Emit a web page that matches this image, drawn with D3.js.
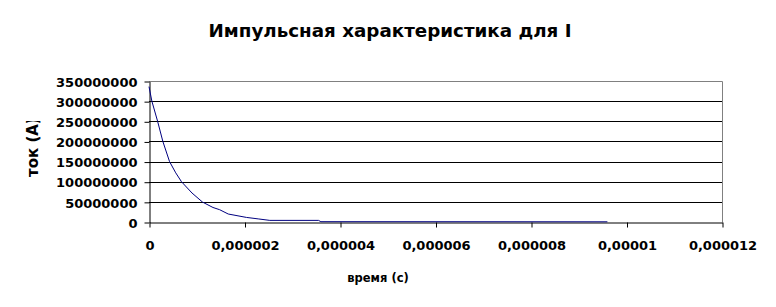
<!DOCTYPE html>
<html>
<head>
<meta charset="utf-8">
<script src="https://cdn.jsdelivr.net/npm/d3@7"></script>
<style>
  body { margin: 0; background: #fff; }
  text { font-family: "DejaVu Sans", Verdana, sans-serif; }
</style>
</head>
<body>
<script>
// время, с
var times = [0, 0.06e-6, 0.18e-6, 0.29e-6, 0.43e-6, 0.56e-6, 0.68e-6, 0.9e-6,
             1.12e-6, 1.34e-6, 1.48e-6, 1.66e-6, 2.04e-6, 2.3e-6, 2.53e-6,
             3.55e-6, 3.6e-6, 9.6e-6];
// ток, А
var currents = [336e6, 300e6, 250e6, 200e6, 150e6, 122e6, 100e6, 72e6,
                49.5e6, 36e6, 30.5e6, 19.8e6, 11.4e6, 7.5e6, 4e6,
                4e6, 0.8e6, 0.5e6];
var xTicks = [0, 0.000002, 0.000004, 0.000006, 0.000008, 0.00001, 0.000012];
var xTickLabels = ["0", "0,000002", "0,000004", "0,000006", "0,000008", "0,00001", "0,000012"];
var yTicks = [0, 50000000, 100000000, 150000000, 200000000, 250000000, 300000000, 350000000];

var title = "Импульсная характеристика для I";
var xTitle = "время (с)";
var yTitle = "ток (А)";

var width = 776, height = 307;
var plotLeft = 149, plotRight = 722, plotTop = 81, plotBottom = 222;

var svg = d3.select("body").append("svg")
  .attr("width", width)
  .attr("height", height);

var x = d3.scaleLinear().domain([0, 0.000012]).range([plotLeft, plotRight]);
var y = d3.scaleLinear().domain([0, 350000000]).range([plotBottom, plotTop]);

// gridlines
svg.append("g").selectAll("line")
  .data(yTicks.slice(1, -1))
  .enter().append("line")
  .attr("x1", plotLeft).attr("x2", plotRight)
  .attr("y1", function(d) { return Math.round(y(d)) + 0.5; })
  .attr("y2", function(d) { return Math.round(y(d)) + 0.5; })
  .style("stroke", "#000")
  .style("stroke-width", 1);

// plot border top / right (gray)
svg.append("path")
  .attr("d", "M" + plotLeft + "," + (plotTop + 0.5) + "H" + (plotRight + 0.5) + "V" + plotBottom)
  .style("fill", "none")
  .style("stroke", "#808080");

// y axis
var yAxis = svg.append("g")
  .attr("transform", "translate(" + (plotLeft + 0.5) + ",0.5)")
  .call(d3.axisLeft(y).tickValues(yTicks).tickSize(5).tickSizeOuter(0).tickFormat(d3.format("d")));
yAxis.select(".domain").style("stroke", "#000");
yAxis.selectAll(".tick line").style("stroke", "#000");
yAxis.selectAll(".tick text")
  .attr("x", -12)
  .attr("dy", "0.36em")
  .style("font-size", "13px")
  .style("font-weight", "bold")
  .style("fill", "#000");

// x axis
var xAxis = svg.append("g")
  .attr("transform", "translate(0.5," + (plotBottom + 0.5) + ")")
  .call(d3.axisBottom(x).tickValues(xTicks).tickSize(5).tickSizeOuter(0)
    .tickFormat(function(d, i) { return xTickLabels[i]; }));
xAxis.select(".domain").style("stroke", "#000");
xAxis.selectAll(".tick line").style("stroke", "#000");
xAxis.selectAll(".tick text")
  .attr("y", 18)
  .attr("dy", "0.71em")
  .style("font-size", "13px")
  .style("font-weight", "bold")
  .style("fill", "#000");

// series
var line = d3.line()
  .x(function(d, i) { return x(times[i]); })
  .y(function(d) { return y(d); });

svg.append("path")
  .datum(currents)
  .attr("d", line)
  .style("fill", "none")
  .style("stroke", "#000080")
  .style("stroke-width", 1);

// title
svg.append("text")
  .attr("x", 390)
  .attr("y", 37)
  .attr("text-anchor", "middle")
  .style("font-size", "18.3px")
  .style("font-weight", "bold")
  .text(title);

// x title
svg.append("text")
  .attr("x", 378)
  .attr("y", 282)
  .attr("text-anchor", "middle")
  .style("font-size", "11.5px")
  .style("font-weight", "bold")
  .text(xTitle);

// y title (clipped like the original)
svg.append("clipPath").attr("id", "yclip")
  .append("rect").attr("x", 0).attr("y", 121).attr("width", 60).attr("height", 100);

svg.append("g").attr("clip-path", "url(#yclip)")
  .append("text")
  .attr("transform", "translate(38,177) rotate(-90)")
  .style("font-size", "15px")
  .style("font-weight", "bold")
  .text(yTitle);
</script>
</body>
</html>
